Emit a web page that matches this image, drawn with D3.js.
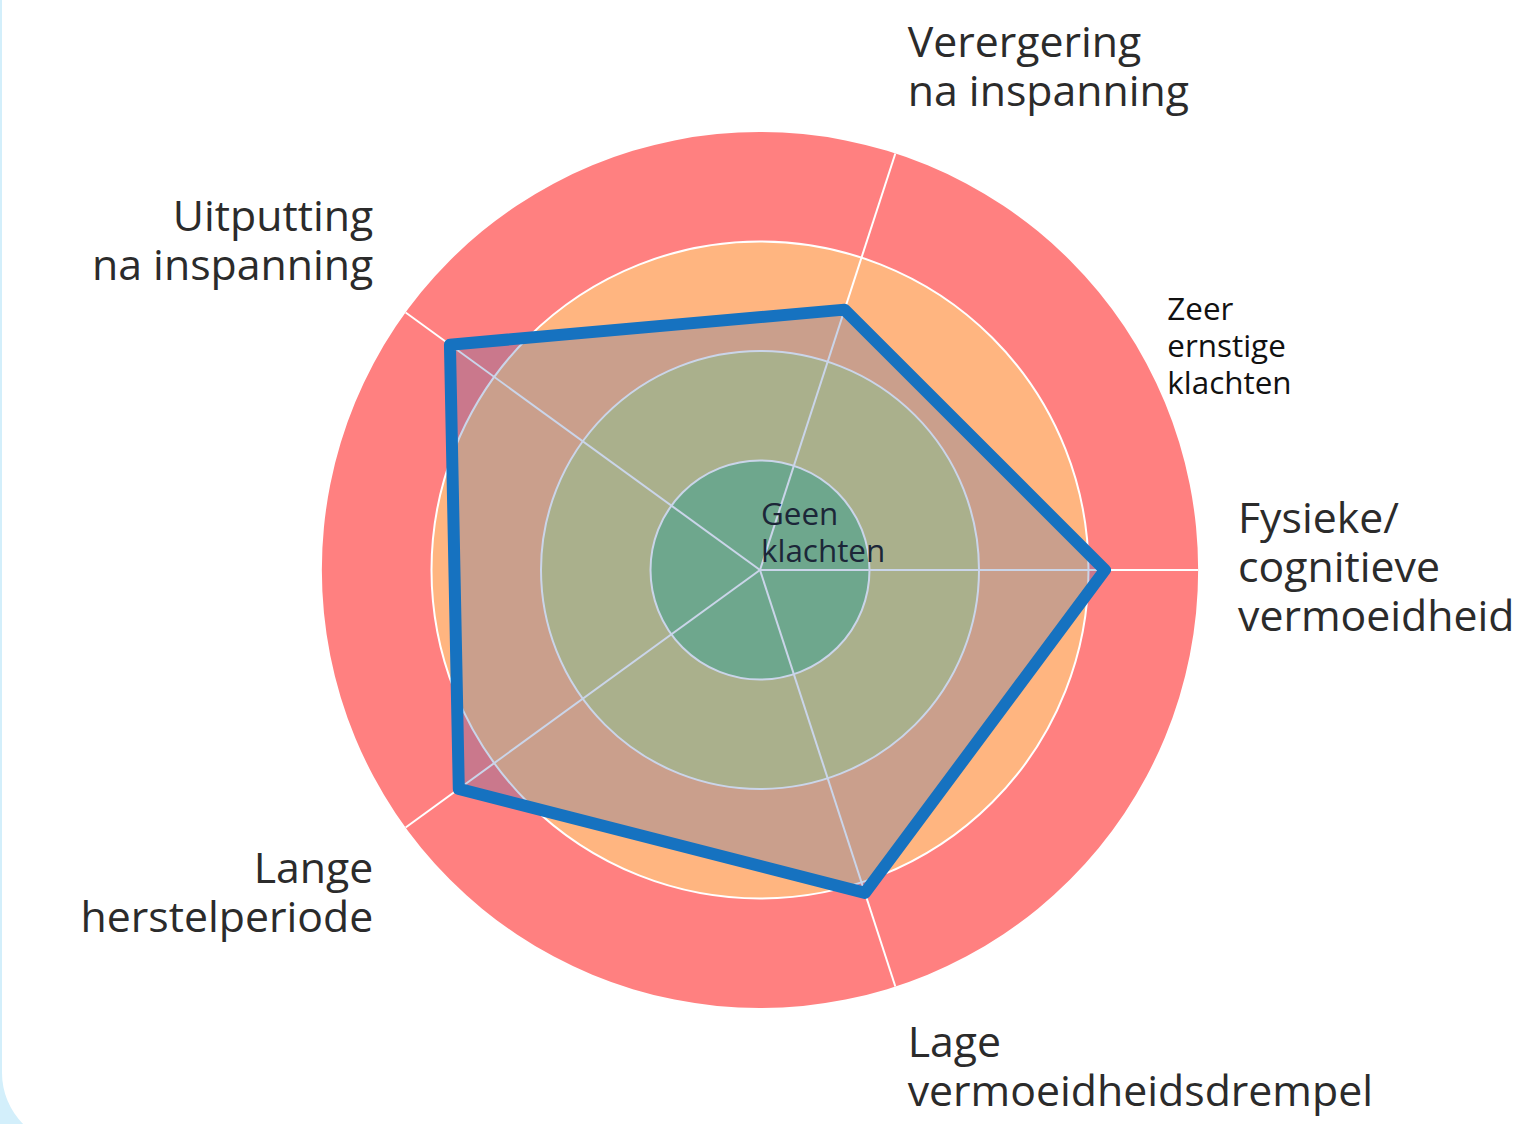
<!DOCTYPE html>
<html>
<head>
<meta charset="utf-8">
<script src="https://cdn.jsdelivr.net/npm/d3@7"></script>
<style>
  body { margin: 0; background: #d3effb; }
  svg { display: block; font-family: "Open Sans", "Noto Sans", sans-serif; }
</style>
</head>
<body>
<div id="chart"></div>
<script>
var width = 1526,
  height = 1124,
  cx = 760,
  cy = 570,
  outerRadius = 438;

// axis labels (one array of lines per axis), counter-clockwise starting at the right
var axisLabels = [
  ['Fysieke/', 'cognitieve', 'vermoeidheid'],
  ['Verergering', 'na inspanning'],
  ['Uitputting', 'na inspanning'],
  ['Lange', 'herstelperiode'],
  ['Lage', 'vermoeidheidsdrempel']
];

// scores per axis, 0 = geen klachten, 4 = zeer ernstige klachten
var scores = [3.15, 2.5, 3.5, 3.4, 3.1];

// background bands
var bandStops = [0, 1, 2, 3, 4];
var bandColors = ['#82c182', '#d4cc80', '#ffb580', '#ff8080'];

var minLabel = ['Geen', 'klachten'];
var maxLabel = ['Zeer', 'ernstige', 'klachten'];

var rScale = d3.scaleLinear()
  .domain([0, 4])
  .range([0, outerRadius]);

var angle = function (i) {
  return i * 2 * Math.PI / axisLabels.length;
};
var px = function (i, r) {
  return cx + r * Math.cos(angle(i));
};
var py = function (i, r) {
  return cy - r * Math.sin(angle(i));
};

var svg = d3.select('#chart')
  .append('svg')
  .attr('width', width)
  .attr('height', height);

// white panel with rounded corner
svg.append('rect')
  .attr('x', 2)
  .attr('y', -100)
  .attr('width', width + 100)
  .attr('height', 1245)
  .attr('rx', 72)
  .attr('fill', '#ffffff');

var g = svg.append('g');

// bands, largest first
var arc = d3.arc();
g.selectAll('path.band')
  .data(bandColors.map(function (c, i) { return { c: c, r0: bandStops[i], r1: bandStops[i + 1] }; }).reverse())
  .enter()
  .append('path')
  .attr('class', 'band')
  .attr('transform', 'translate(' + cx + ',' + cy + ')')
  .attr('d', function (d) {
    return arc({ innerRadius: 0, outerRadius: rScale(d.r1), startAngle: 0, endAngle: 2 * Math.PI });
  })
  .attr('fill', function (d) { return d.c; });

// grid circles
g.selectAll('circle.grid')
  .data(bandStops.slice(1, 4))
  .enter()
  .append('circle')
  .attr('class', 'grid')
  .attr('cx', cx)
  .attr('cy', cy)
  .attr('r', function (d) { return rScale(d); })
  .attr('fill', 'none')
  .attr('stroke', '#ffffff')
  .attr('stroke-width', 2);

// spokes
g.selectAll('line.spoke')
  .data(axisLabels)
  .enter()
  .append('line')
  .attr('class', 'spoke')
  .attr('x1', cx)
  .attr('y1', cy)
  .attr('x2', function (d, i) { return px(i, rScale(4)); })
  .attr('y2', function (d, i) { return py(i, rScale(4)); })
  .attr('stroke', '#ffffff')
  .attr('stroke-width', 2);

// score polygon
var line = d3.line()
  .x(function (d, i) { return px(i, rScale(d)); })
  .y(function (d, i) { return py(i, rScale(d)); })
  .curve(d3.curveLinearClosed);

g.append('path')
  .datum(scores)
  .attr('d', line)
  .attr('fill', 'rgba(59,100,172,0.27)')
  .attr('stroke', '#1672c0')
  .attr('stroke-width', 12)
  .attr('stroke-linejoin', 'round');

// axis labels
var lh = 49;
svg.selectAll('text.axis-label')
  .data(axisLabels)
  .enter()
  .append('text')
  .attr('class', 'axis-label')
  .attr('font-size', 42.8)
  .attr('fill', '#2b2b2b')
  .attr('text-anchor', function (d, i) {
    return Math.cos(angle(i)) < 0 ? 'end' : 'start';
  })
  .each(function (d, i) {
    var x = px(i, rScale(4) + 40),
      y = py(i, rScale(4) + 40),
      s = Math.sin(angle(i)),
      first;
    if (s > 0.1) first = y - 9 - (d.length - 1) * lh;
    else if (s < -0.1) first = y + 32;
    else first = y + 12 - (d.length - 1) / 2 * lh;
    d3.select(this).selectAll('tspan')
      .data(d)
      .enter()
      .append('tspan')
      .attr('x', x)
      .attr('y', function (t, j) { return first + j * lh; })
      .text(function (t) { return t; });
  });

// level labels
var slh = 37;
svg.append('text')
  .attr('font-size', 31.4)
  .attr('fill', '#1c2638')
  .selectAll('tspan')
  .data(minLabel)
  .enter()
  .append('tspan')
  .attr('x', cx + rScale(0) + 1)
  .attr('y', function (t, j) { return cy - 45 + j * slh; })
  .text(function (t) { return t; });

svg.append('text')
  .attr('font-size', 31.4)
  .attr('fill', '#111111')
  .selectAll('tspan')
  .data(maxLabel)
  .enter()
  .append('tspan')
  .attr('x', cx + rScale(3.72))
  .attr('y', function (t, j) { return cy - 250 + j * slh; })
  .text(function (t) { return t; });
</script>
</body>
</html>
